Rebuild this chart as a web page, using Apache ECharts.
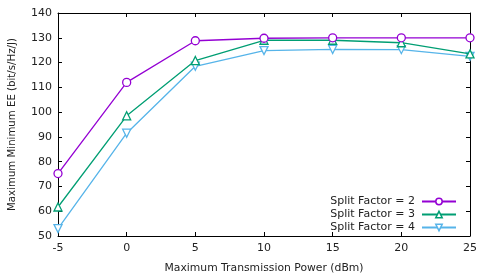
<!DOCTYPE html>
<html><head><meta charset="utf-8">
<script src="https://cdn.jsdelivr.net/npm/echarts@6/dist/echarts.min.js"></script>
<style>html,body{margin:0;padding:0;background:#fff}#c{width:491px;height:273px}</style>
</head><body><div id="c"></div>
<script>
const xValues = [-5, 0, 5, 10, 15, 20, 25];
const sf2 = [75.2, 112, 128.8, 129.8, 130, 130, 130];
const sf3 = [61.7, 98.5, 120.8, 129, 129, 128, 123.5];
const sf4 = [53, 91.5, 118.5, 124.8, 125.3, 125.2, 122.5];
const seriesNames = ['Split Factor = 2', 'Split Factor = 3', 'Split Factor = 4'];
const colors = ['#9400d3', '#009e73', '#56b4e9'];
const symbols = ['circle', 'triangle', 'path://M0,0 L10,0 L5,9 Z'];
const FONT = 'DejaVu Sans';
const chart = echarts.init(document.getElementById('c'), null, {renderer: 'canvas'});
const data = [sf2, sf3, sf4];
const axisCommon = {
  axisLine: {show: true, onZero: false, lineStyle: {color: '#000', width: 1}},
  axisTick: {show: true, inside: true, length: 4, lineStyle: {color: '#000'}},
  splitLine: {show: false}
};
chart.setOption({
  animation: false,
  textStyle: {fontFamily: FONT},
  grid: {left: 58, right: 21, top: 13, bottom: 37, outerBoundsMode: 'none', containLabel: false},
  legend: {
    orient: 'vertical', right: 29, bottom: 35, align: 'right',
    itemGap: 2, itemWidth: 34, itemHeight: 8,
    textStyle: {fontFamily: FONT, fontSize: 11, color: '#222', padding: [0, 2, 0, 0]},
    data: seriesNames.map((n, i) => ({name: n, itemStyle: {color: '#fff', borderColor: colors[i], borderWidth: 1.5}}))
  },
  xAxis: [
    Object.assign({type: 'value', min: -5, max: 25, interval: 5, position: 'bottom',
      name: 'Maximum Transmission Power (dBm)', nameLocation: 'middle', nameGap: 27,
      nameTextStyle: {fontFamily: FONT, fontSize: 10.8, color: '#222'},
      axisLabel: {fontFamily: FONT, fontSize: 11, color: '#222', margin: 7}}, axisCommon),
    Object.assign({type: 'value', min: -5, max: 25, interval: 5, position: 'top',
      axisLabel: {show: false}}, axisCommon)
  ],
  yAxis: [
    Object.assign({type: 'value', min: 50, max: 140, interval: 10, position: 'left',
      name: 'Maximum Minimum EE (bit/s/Hz/J)', nameLocation: 'middle', nameGap: 41,
      nameTextStyle: {fontFamily: FONT, fontSize: 10.2, color: '#222'},
      axisLabel: {fontFamily: FONT, fontSize: 11, color: '#222', margin: 6}}, axisCommon),
    Object.assign({type: 'value', min: 50, max: 140, interval: 10, position: 'right',
      axisLabel: {show: false}}, axisCommon)
  ],
  series: data.map((d, i) => ({
    name: seriesNames[i], type: 'line',
    data: xValues.map((x, j) => [x, d[j]]),
    symbol: symbols[i], symbolSize: 8, showAllSymbol: true,
    lineStyle: {color: colors[i], width: 1.3},
    itemStyle: {color: '#fff', borderColor: colors[i], borderWidth: 1.3},
    z: 3 - i
  }))
});
</script></body></html>
